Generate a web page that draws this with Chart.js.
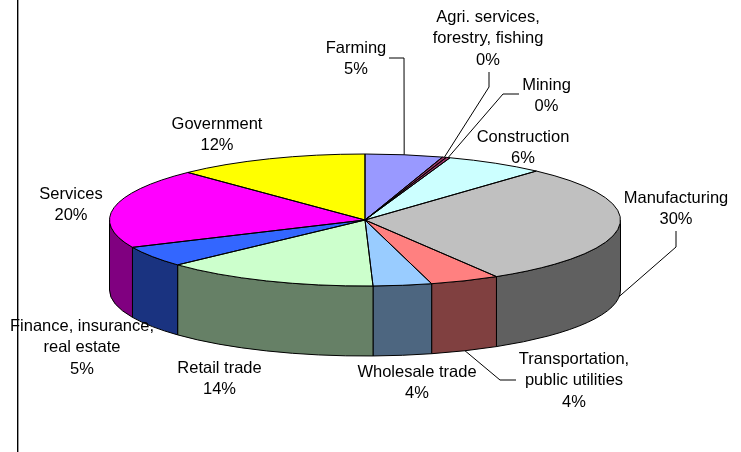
<!DOCTYPE html>
<html><head><meta charset="utf-8">
<style>html,body{margin:0;padding:0;background:#fff}canvas{display:block}</style>
<script src="https://cdn.jsdelivr.net/npm/chart.js@4"></script>
</head><body>
<canvas id="c" width="741" height="452"></canvas>
<script>
const categories = ["Farming","Agri. services, forestry, fishing","Mining","Construction","Manufacturing","Transportation, public utilities","Wholesale trade","Retail trade","Finance, insurance, real estate","Services","Government"];
const shares = [4.9,0.25,0.25,6.3,29.7,4.4,3.7,13.6,5.1,19.6,12.2];
const topColors = ["#9999FF","#993366","#993366","#CCFFFF","#C0C0C0","#FF8080","#99CCFF","#CCFFCC","#3366FF","#FF00FF","#FFFF00"];
const wallColors = ["#4D4D80","#4D1A33","#4D1A33","#668080","#606060","#804040","#4D6680","#668066","#1A3380","#800080","#808000"];
const labelLines = [["Farming"],["Agri. services,","forestry, fishing"],["Mining"],["Construction"],["Manufacturing"],["Transportation,","public utilities"],["Wholesale trade"],["Retail trade"],["Finance, insurance,","real estate"],["Services"],["Government"]];

const RX = 255.5, RY = 66, DEPTH = 70, K = RY / RX;
// label centre x, first-line centre y
const labelPos = [[356,48],[488,17],[546.5,85],[523,137],[676,198],[574,359],[417,372],[219.5,368],[82,326],[71,194],[217,124]];
// leader elbows per slice index (label end, elbow)
const leaders = {0:[[389,58],[404,58]],1:[[489,72],[489,87]],2:[[519,94],[503,94]],4:[[676,231],[676,247]],5:[[516,380],[500,380]]};

const pie3d = {
  id:'pie3d',
  beforeDatasetsDraw(chart){
    const ctx = chart.ctx, arcs = chart.getDatasetMeta(0).data;
    ctx.lineWidth = 1; ctx.strokeStyle = '#000';
    arcs.forEach((a,i)=>{
      const s = Math.max(a.startAngle,0), e = Math.min(a.endAngle,Math.PI);
      if (e <= s) return;
      ctx.beginPath();
      ctx.ellipse(a.x,a.y,RX,RY,0,s,e);
      ctx.ellipse(a.x,a.y+DEPTH,RX,RY,0,e,s,true);
      ctx.closePath();
      ctx.fillStyle = wallColors[i];
      ctx.fill(); ctx.stroke();
    });
    const c = arcs[0];
    ctx.save();
    ctx.translate(c.x,c.y); ctx.scale(1,K); ctx.translate(-c.x,-c.y);
  },
  afterDatasetsDraw(chart){
    const ctx = chart.ctx, arcs = chart.getDatasetMeta(0).data;
    ctx.restore();
    ctx.lineWidth = 1; ctx.strokeStyle = '#000';
    arcs.forEach(a=>{
      ctx.beginPath();
      ctx.moveTo(a.x,a.y);
      ctx.ellipse(a.x,a.y,RX,RY,0,a.startAngle,a.endAngle);
      ctx.closePath();
      ctx.stroke();
    });
  },
  afterDraw(chart){
    const ctx = chart.ctx, arcs = chart.getDatasetMeta(0).data;
    ctx.fillStyle = '#000';
    ctx.fillRect(17,0,1.4,452);
    ctx.lineWidth = 1; ctx.strokeStyle = '#000';
    Object.keys(leaders).forEach(k=>{
      const a = arcs[k], m = (a.startAngle+a.endAngle)/2;
      const px = a.x+RX*Math.cos(m);
      const py = a.y+RY*Math.sin(m)+(Math.sin(m)>0?DEPTH:0);
      const pts = leaders[k];
      ctx.beginPath();
      ctx.moveTo(pts[0][0],pts[0][1]);
      ctx.lineTo(pts[1][0],pts[1][1]);
      ctx.lineTo(px,py);
      ctx.stroke();
    });
    ctx.font = '16.5px "Liberation Sans", Arial, sans-serif';
    ctx.textAlign = 'center'; ctx.textBaseline = 'middle';
    ctx.fillStyle = '#000';
    labelLines.forEach((lines,i)=>{
      const all = lines.concat([Math.round(shares[i])+'%']);
      all.forEach((t,j)=>ctx.fillText(t,labelPos[i][0],labelPos[i][1]+j*21.6));
    });
  }
};

new Chart(document.getElementById('c'),{
  type:'pie',
  data:{labels:categories,datasets:[{data:shares,backgroundColor:topColors,borderWidth:0,clip:false}]},
  options:{
    responsive:false,animation:false,radius:RX,
    layout:{padding:{left:0,top:0,right:11,bottom:12}},
    events:[],
    plugins:{legend:{display:false},tooltip:{enabled:false}}
  },
  plugins:[pie3d]
});
</script>
</body></html>
